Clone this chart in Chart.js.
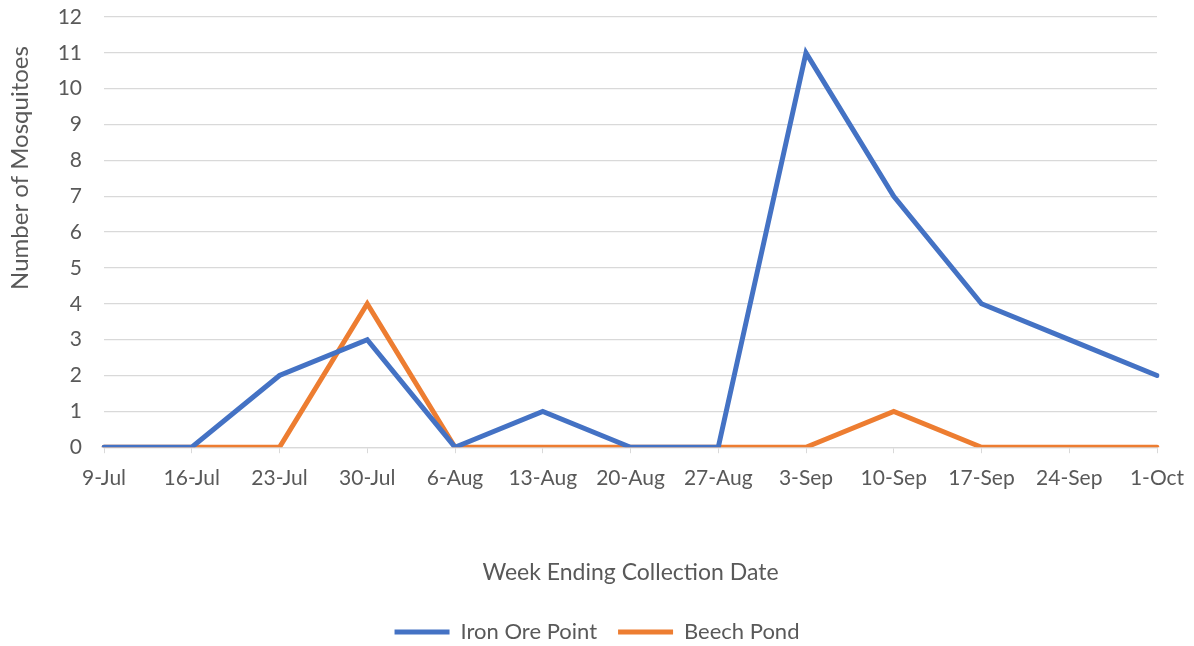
<!DOCTYPE html>
<html>
<head>
<meta charset="utf-8">
<script src="https://cdn.jsdelivr.net/npm/chart.js@4"></script>
<style>
  html, body { margin: 0; padding: 0; background: #fff; }
  #wrap { width: 1194px; height: 646px; }
</style>
</head>
<body>
<div id="wrap"><canvas id="mosquitoChart" width="1194" height="646"></canvas></div>
<script>
const weeks = ['9-Jul', '16-Jul', '23-Jul', '30-Jul', '6-Aug', '13-Aug', '20-Aug', '27-Aug', '3-Sep', '10-Sep', '17-Sep', '24-Sep', '1-Oct'];
const ironOrePoint = [0, 0, 2, 3, 0, 1, 0, 0, 11, 7, 4, 3, 2];
const beechPond = [0, 0, 0, 4, 0, 0, 0, 0, 0, 1, 0, 0, 0];

const grey = '#595959';
const gridGrey = '#d9d9d9';
const font = 'Lato, "Open Sans", sans-serif';

// y axis title sits above the middle of the plot in the original, so draw it by hand
const yTitle = {
    id: 'yTitle',
    afterDraw(chart) {
        const c = chart.ctx;
        c.save();
        c.translate(20, 168);
        c.rotate(-Math.PI / 2);
        c.font = '24px ' + font;
        c.fillStyle = grey;
        c.textAlign = 'center';
        c.textBaseline = 'middle';
        c.fillText('Number of Mosquitoes', 0, 0);
        c.restore();
    }
};

const ctx = document.getElementById('mosquitoChart').getContext('2d');

new Chart(ctx, {
    type: 'line',
    data: {
        labels: weeks,
        datasets: [{
            label: 'Iron Ore Point',
            data: ironOrePoint,
            borderColor: '#4472C4',
            backgroundColor: '#4472C4',
            borderWidth: 5,
            borderCapStyle: 'round',
            pointRadius: 0,
            tension: 0
        }, {
            label: 'Beech Pond',
            data: beechPond,
            borderColor: '#ED7D31',
            backgroundColor: '#ED7D31',
            borderWidth: 5,
            borderCapStyle: 'round',
            pointRadius: 0,
            tension: 0
        }]
    },
    options: {
        responsive: false,
        animation: false,
        layout: {
            padding: { top: 17, right: 0, bottom: -7, left: 0 }
        },
        scales: {
            x: {
                offset: false,
                grid: {
                    display: true,
                    drawOnChartArea: false,
                    color: gridGrey,
                    tickLength: 6
                },
                border: { color: gridGrey, width: 1.3 },
                ticks: {
                    color: grey,
                    font: { family: font, size: 21 },
                    maxRotation: 0,
                    autoSkip: false,
                    padding: 12
                },
                title: {
                    display: true,
                    text: 'Week Ending Collection Date',
                    color: grey,
                    font: { family: font, size: 23 },
                    padding: { top: 56, bottom: 14 }
                },
                afterFit: (scale) => { scale.paddingRight = 37; }
            },
            y: {
                min: 0,
                max: 12,
                grid: {
                    color: gridGrey,
                    lineWidth: 1.3,
                    drawTicks: false
                },
                border: { display: false },
                ticks: {
                    stepSize: 1,
                    color: grey,
                    font: { family: font, size: 21 },
                    padding: 22
                },
                afterFit: (scale) => {
                    scale.width = 104;
                    scale.paddingTop = 0;
                }
            }
        },
        plugins: {
            legend: {
                position: 'bottom',
                labels: {
                    color: grey,
                    font: { family: font, size: 22 },
                    usePointStyle: true,
                    pointStyle: 'line',
                    pointStyleWidth: 55,
                    padding: 21
                }
            },
            tooltip: { enabled: false }
        }
    },
    plugins: [yTitle]
});
</script>
</body>
</html>
